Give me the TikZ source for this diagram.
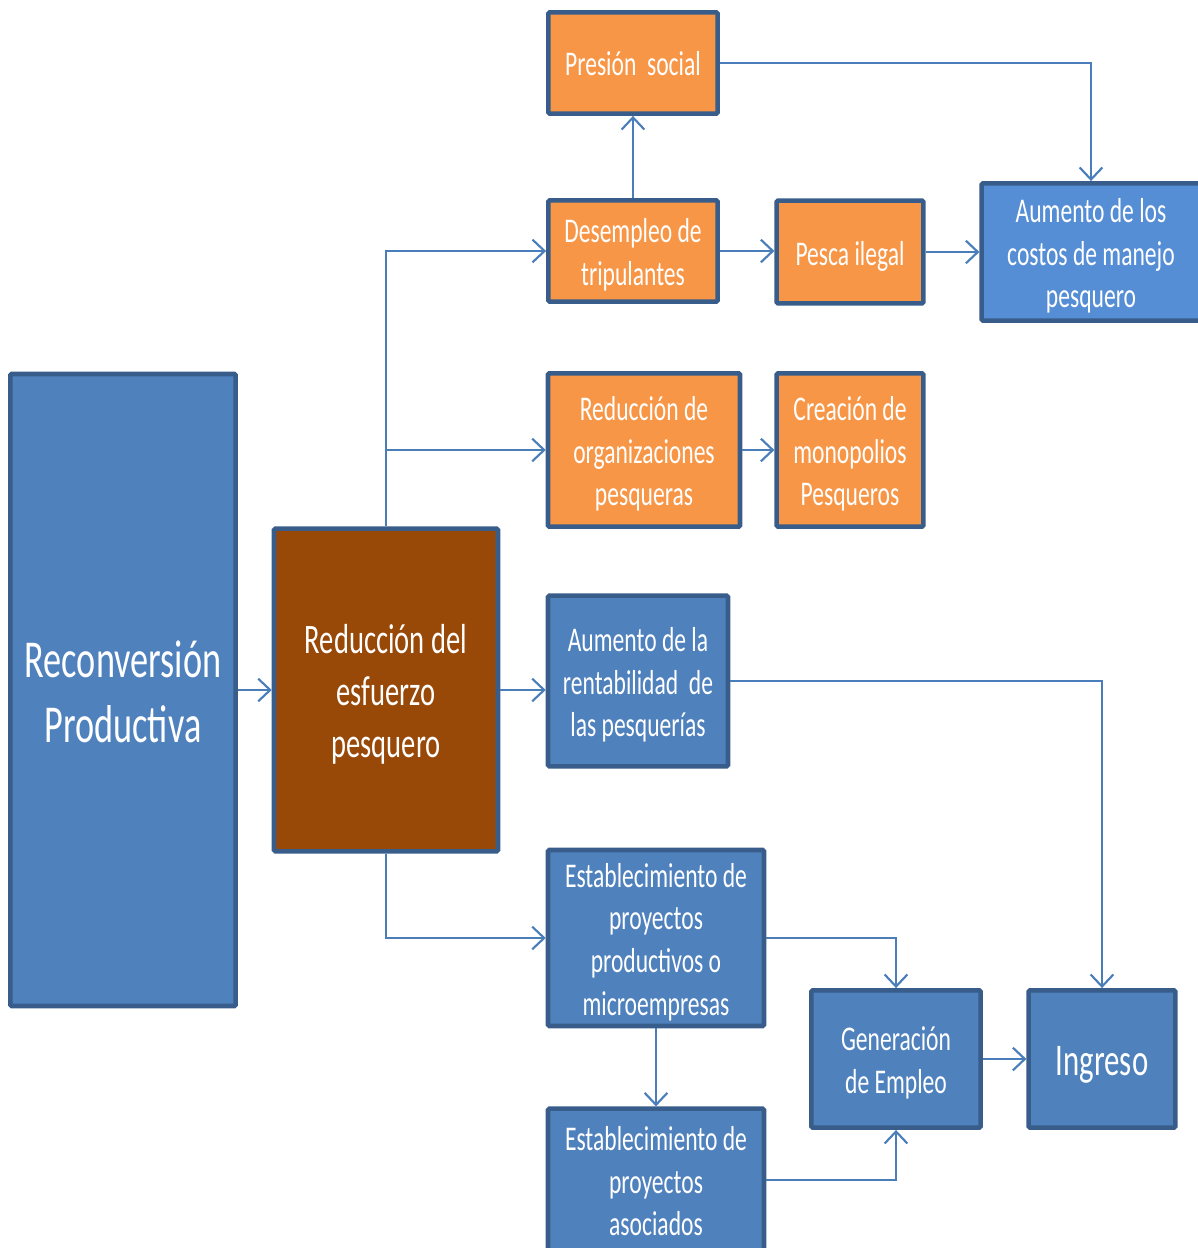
\documentclass[tikz,border=0pt]{standalone}
\usepackage{fontspec}
\setmainfont{Carlito}[FakeStretch=0.68]
\usetikzlibrary{arrows.meta}
\definecolor{boxblue}{HTML}{4F81BD}
\definecolor{lightblue}{HTML}{558ED5}
\definecolor{boxorange}{HTML}{F79646}
\definecolor{boxbrown}{HTML}{984807}
\definecolor{edgeblue}{HTML}{385D8A}
\definecolor{linkblue}{HTML}{4A7EBB}
% centred lines of box text, set slightly below the box centre
\newcommand\boxtext[2][3.4pt]{%
  \raisebox{-#1}[\height][\depth]{\begin{tabular}{@{}c@{}}#2\end{tabular}}}
\tikzset{
  box/.style={draw=edgeblue, line width=3.4pt, rounded corners=1pt, text=white,
    inner sep=2pt, font=\fontsize{26}{32}\selectfont},
  bluebox/.style={box, fill=boxblue},
  orangebox/.style={box, fill=boxorange},
  conn/.style={draw=linkblue, line width=1.6pt,
    -{Straight Barb[length=9pt, width=17pt, line width=1.6pt]}}
}
\begin{document}
\begin{tikzpicture}[x=0.75pt, y=-0.75pt]
\useasboundingbox (0,0) rectangle (1198,1248);

% left column
\node[bluebox, minimum width=169pt, minimum height=474pt,
  font=\fontsize{40}{49}\selectfont] (recon) at (123,690) {\boxtext[5pt]{Reconversión\\Productiva}};
\node[box, fill=boxbrown, minimum width=168pt, minimum height=242pt,
  font=\fontsize{31.5}{39}\selectfont] (esf) at (386,690) {\boxtext[3.5pt]{Reducción del\\esfuerzo\\pesquero}};

% upper branch
\node[orangebox, minimum width=127pt, minimum height=76pt] (pres) at (633,63) {\boxtext[3pt]{Presión~ social}};
\node[orangebox, minimum width=127pt, minimum height=76pt] (desem) at (633,251) {\boxtext{Desempleo de\\tripulantes}};
\node[orangebox, minimum width=110pt, minimum height=77pt] (pesca) at (850,252) {\boxtext{Pesca ilegal}};
\node[box, fill=lightblue, minimum width=164pt, minimum height=103pt] (costos) at (1091,252) {\boxtext{Aumento de los\\costos de manejo\\pesquero}};
\node[orangebox, minimum width=144pt, minimum height=115pt] (org) at (644,450) {\boxtext{Reducción de\\organizaciones\\pesqueras}};
\node[orangebox, minimum width=110pt, minimum height=115pt] (mono) at (850,450) {\boxtext{Creación de\\monopolios\\Pesqueros}};

% lower branch
\node[bluebox, minimum width=135pt, minimum height=128pt] (rent) at (638,681) {\boxtext{Aumento de la\\rentabilidad~ de\\las pesquerías}};
\node[bluebox, minimum width=162pt, minimum height=128pt] (prod) at (656,938) {\boxtext{Establecimiento de\\proyectos\\productivos o\\microempresas}};
\node[bluebox, minimum width=162pt, minimum height=107pt] (asoc) at (656,1180) {\boxtext{Establecimiento de\\proyectos\\asociados}};
\node[bluebox, minimum width=127pt, minimum height=103pt] (gen) at (896,1059) {\boxtext{Generación\\de Empleo}};
\node[bluebox, minimum width=110pt, minimum height=103pt,
  font=\fontsize{34}{40}\selectfont] (ing) at (1102,1059) {\boxtext[4.5pt]{Ingreso}};

% connectors
\draw[conn] (recon.east) -- (esf.west);
\draw[conn] (esf.north) |- (desem.west);
\draw[conn] (esf.north) |- (org.west);
\draw[conn] (esf.east) -- (esf.east -| rent.west);
\draw[conn] (esf.south) |- (prod.west);
\draw[conn] (desem.north) -- (pres.south);
\draw[conn] (pres.east) -| (costos.north);
\draw[conn] (desem.east) -- (desem.east -| pesca.west);
\draw[conn] (pesca.east) -- (costos.west);
\draw[conn] (org.east) -- (mono.west);
\draw[conn] (rent.east) -| (ing.north);
\draw[conn] (prod.east) -| (gen.north);
\draw[conn] (prod.south) -- (asoc.north);
\draw[conn] (asoc.east) -| (gen.south);
\draw[conn] (gen.east) -- (ing.west);
\end{tikzpicture}
\end{document}
